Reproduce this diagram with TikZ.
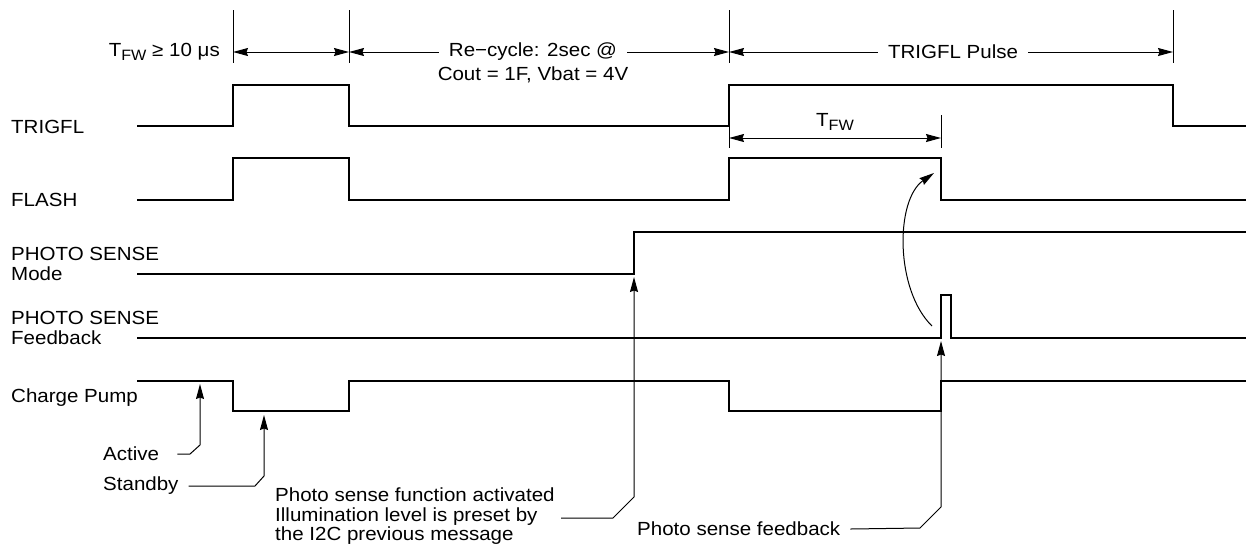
\documentclass[tikz,border=0pt]{standalone}
\usepackage{fontspec}
\setmainfont[FakeStretch=1.08]{Liberation Sans}
\usetikzlibrary{arrows.meta}
\begin{document}
\begin{tikzpicture}[x=1pt,y=-1pt,
  sig/.style={line width=2.4pt, line join=miter, line cap=rect},
  thinl/.style={line width=1pt},
  arr/.style={-{Stealth[length=15pt,width=8pt,inset=1.5pt]}},
  darr/.style={{Stealth[length=15pt,width=8pt,inset=1.5pt]}-{Stealth[length=15pt,width=8pt,inset=1.5pt]}},
  lbl/.style={font=\fontsize{19}{19.5}\selectfont, inner sep=0pt, align=left}]
\useasboundingbox (0,0) rectangle (1246,550);

% signal names
\node[lbl, anchor=west] (ntrig) at (11,127) {TRIGFL};
\node[lbl, anchor=west] (nflash) at (11,200) {FLASH};
\node[lbl, anchor=west] (nmode) at (11,264) {PHOTO SENSE\\Mode};
\node[lbl, anchor=west] (nfb) at (11,328) {PHOTO SENSE\\Feedback};
\node[lbl, anchor=west] (ncp) at (11,398) {Charge Pump};

% waveforms
\draw[sig] (138,126) -- (233,126) -- (233,85) -- (349,85) -- (349,126) -- (729,126) -- (729,85) -- (1173,85) -- (1173,126) -- (1246,126);
\draw[sig] (138,200) -- (233,200) -- (233,158) -- (349,158) -- (349,200) -- (729,200) -- (729,158) -- (941,158) -- (941,200) -- (1246,200);
\draw[sig] (138,274) -- (634,274) -- (634,232) -- (1246,232);
\draw[sig] (138,338) -- (941,338) -- (941,295) -- (951,295) -- (951,338) -- (1246,338);
\draw[sig] (138,381) -- (233,381) -- (233,411) -- (349,411) -- (349,381) -- (729,381) -- (729,411) -- (941,411) -- (941,381) -- (1246,381);

% top ticks
\foreach \x/\n in {233/ta,349/tb,729/tc,1173/td} {
  \coordinate (\n) at (\x,52);
  \draw[thinl] (\x,10) -- (\x,63);
}
% dimension 1
\node[lbl, anchor=east] (tfw1) at (220,52) {T\raisebox{-0.45ex}{\fontsize{15}{15}\selectfont FW} ≥ 10 μs};
\draw[thinl, darr] (ta) -- (tb);
% recycle
\node[lbl, anchor=center] (rc1) at (533,52) {Re−cycle: 2sec @};
\node[lbl, anchor=center] (rc2) at (533,75) {Cout = 1F, Vbat = 4V};
\draw[thinl, arr] ([xshift=-10pt]rc1.west) -- (tb);
\draw[thinl, arr] ([xshift=10pt]rc1.east) -- (tc);
% trigfl pulse
\node[lbl, anchor=center] (tp) at (953,52) {TRIGFL Pulse};
\draw[thinl, arr] ([xshift=-10pt]tp.west) -- (tc);
\draw[thinl, arr] ([xshift=10pt]tp.east) -- (td);

% TFW dimension
\coordinate (fa) at (729,138);
\coordinate (fb) at (941,138);
\draw[thinl] (729,126) -- (729,148);
\draw[thinl] (941,115) -- (941,148);
\draw[thinl, darr] (fa) -- (fb);
\node[lbl, anchor=center] (tfw2) at (835,122) {T\raisebox{-0.45ex}{\fontsize{15}{15}\selectfont FW}};

% curved arrow
\coordinate (cs) at (932,326);
\coordinate (ce) at (934,173);
\draw[thinl, arr] (cs) .. controls (895,290) and (895,200) .. (ce);

% annotations
\node[lbl, anchor=west] (act) at (103,454) {Active};
\node[lbl, anchor=west] (stb) at (103,486) {Standby};
\node[lbl, anchor=north west] (psf) at (275,488) {Photo sense function activated\\Illumination level is preset by\\the I2C previous message};
\node[lbl, anchor=west] (psfb) at (637,529) {Photo sense feedback};

\draw[thinl, arr] ([xshift=18pt]act.east) -- (190,454) -- (200,445) -- (200,384);
\draw[thinl, arr] ([xshift=10pt]stb.east) -- (255,486) -- (264,476) -- (264,415);
\draw[thinl, arr] (561,518) -- (613,518) -- (634,497) -- (634,277);
\draw[thinl, arr] ([xshift=10pt]psfb.east) -- (920,528) -- (941,507) -- (941,341);
\end{tikzpicture}
\end{document}
